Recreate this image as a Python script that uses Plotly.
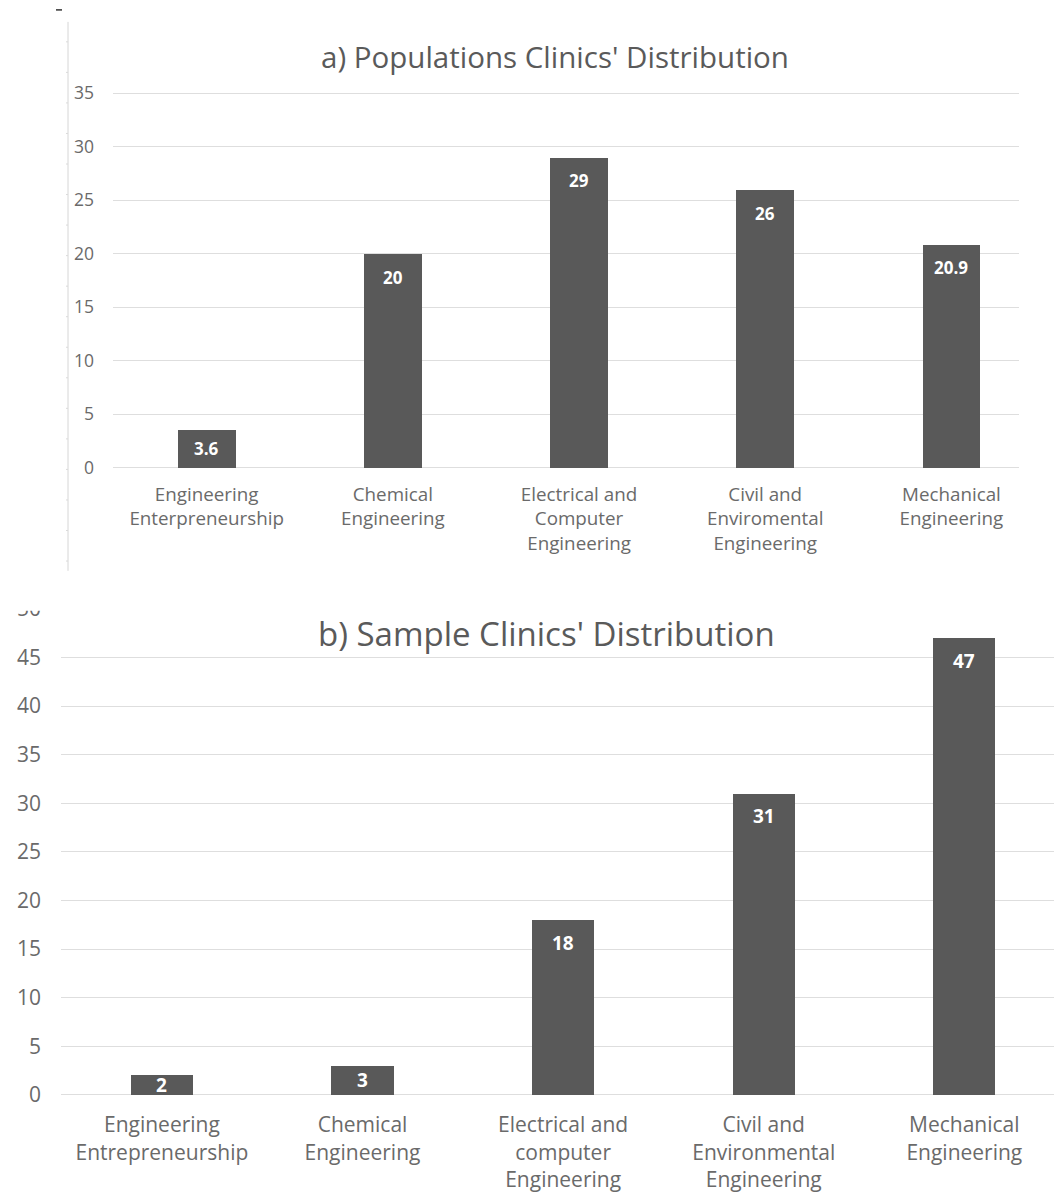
import plotly.graph_objects as go

# Panel a: distribution of clinics across the population
cats_a = [
    "Engineering<br>Enterpreneurship",
    "Chemical<br>Engineering",
    "Electrical and<br>Computer<br>Engineering",
    "Civil and<br>Enviromental<br>Engineering",
    "Mechanical<br>Engineering",
]
values_a = [3.6, 20, 29, 26, 20.9]

# Panel b: distribution of clinics in the sample
cats_b = [
    "Engineering<br>Entrepreneurship",
    "Chemical<br>Engineering",
    "Electrical and<br>computer<br>Engineering",
    "Civil and<br>Environmental<br>Engineering",
    "Mechanical<br>Engineering",
]
values_b = [2, 3, 18, 31, 47]

title_a = "a) Populations Clinics' Distribution"
title_b = "b) Sample Clinics' Distribution"

W, H = 1054, 1193
FONT = "Open Sans"
BAR = "#595959"
GRID = "#dedede"
TXT = "#5a5a5a"
LBL = "#6a6a6a"

# vertical placement: page rows are mapped through the page's own offset/scale
Y_OFF, Y_SCALE = 7.1, 0.9826


def py(px):
    """Convert a pixel row (from the top of the page) into paper coordinates."""
    return 1 - ((px - Y_OFF) / Y_SCALE) / H


def px_x(px):
    return px / W


YMAX_A = 36
YMAX_B = 50.6

fig = go.Figure()
fig.add_trace(go.Bar(x=list(range(len(cats_a))), y=values_a, width=0.31,
                     marker=dict(color=BAR, line=dict(width=0)),
                     xaxis="x", yaxis="y", hoverinfo="skip"))
fig.add_trace(go.Bar(x=list(range(len(cats_b))), y=values_b, width=0.31,
                     marker=dict(color=BAR, line=dict(width=0)),
                     xaxis="x2", yaxis="y2", hoverinfo="skip"))

annotations = []


def value_labels(vals, xref, yref, ymax, size, shift):
    for i, v in enumerate(vals):
        if v / ymax < 0.12:
            y, anchor, ys = v / 2, "middle", 0
        else:
            y, anchor, ys = v, "top", shift
        annotations.append(dict(
            x=i, y=y, xref=xref, yref=yref, text=f"{v:g}", showarrow=False,
            yanchor=anchor, yshift=ys,
            font=dict(family=FONT, size=size, color="white", weight="bold")))


value_labels(values_a, "x", "y", YMAX_A, 17, -10)
value_labels(values_b, "x2", "y2", YMAX_B, 19, -8)

annotations.append(dict(x=px_x(555), y=py(55), xref="paper", yref="paper",
                        text=title_a, showarrow=False, xanchor="center", yanchor="middle",
                        font=dict(family=FONT, size=29.5, color=TXT)))
annotations.append(dict(x=px_x(546), y=py(633), xref="paper", yref="paper",
                        text=title_b, showarrow=False, xanchor="center", yanchor="middle",
                        font=dict(family=FONT, size=33, color=TXT)))

shapes = []
# thin page ruler at the left of the upper panel
shapes.append(dict(type="line", xref="paper", yref="paper",
                   x0=px_x(68), x1=px_x(68), y0=py(20), y1=py(570),
                   line=dict(color="#d6d6d6", width=1)))
k = 0
while 40 + k * 30.6 < 570:
    yy = 40 + k * 30.6
    shapes.append(dict(type="line", xref="paper", yref="paper",
                       x0=px_x(66), x1=px_x(68), y0=py(yy), y1=py(yy),
                       line=dict(color="#dadada", width=1)))
    k += 1
# small dash in the top-left corner
shapes.append(dict(type="line", xref="paper", yref="paper",
                   x0=px_x(56), x1=px_x(62), y0=py(8), y1=py(8),
                   line=dict(color="#333333", width=1.5)))
# the lower panel is trimmed at the top, cutting through its highest tick
shapes.append(dict(type="rect", xref="paper", yref="paper", layer="above",
                   x0=0, x1=1, y0=py(610), y1=py(575),
                   fillcolor="white", line=dict(width=0)))

fig.update_layout(
    width=W, height=H,
    margin=dict(l=0, r=0, t=0, b=0),
    paper_bgcolor="white", plot_bgcolor="white",
    showlegend=False,
    bargap=0,
    annotations=annotations,
    shapes=shapes,
    xaxis=dict(domain=[px_x(113), px_x(1019)], range=[-0.503, 4.363],
               tickmode="array", tickvals=list(range(len(cats_a))), ticktext=cats_a,
               showgrid=False, zeroline=False, showline=False, ticks="",
               ticklabelstandoff=13,
               tickfont=dict(family=FONT, size=18.8, color=LBL),
               anchor="y"),
    yaxis=dict(domain=[py(467.2), py(80.8)], range=[-0.05, YMAX_A],
               tick0=0, dtick=5, showgrid=True, gridcolor=GRID, gridwidth=1.2,
               zeroline=True, zerolinecolor=GRID, zerolinewidth=1.2,
               showline=False, ticks="", ticklabelstandoff=18,
               tickfont=dict(family=FONT, size=17.5, color=LBL),
               anchor="x"),
    xaxis2=dict(domain=[px_x(61), 1.0], range=[-0.503, 4.447],
                tickmode="array", tickvals=list(range(len(cats_b))), ticktext=cats_b,
                showgrid=False, zeroline=False, showline=False, ticks="",
                ticklabelstandoff=15,
                tickfont=dict(family=FONT, size=21, color=LBL),
                anchor="y2"),
    yaxis2=dict(domain=[py(1095.5), py(602.2)], range=[-0.05, YMAX_B],
                tick0=0, dtick=5, showgrid=True, gridcolor=GRID, gridwidth=1.2,
                zeroline=True, zerolinecolor=GRID, zerolinewidth=1.2,
                showline=False, ticks="", ticklabelstandoff=19,
                tickfont=dict(family=FONT, size=21, color=LBL),
                anchor="x2"),
)

fig.write_html("out.html")
